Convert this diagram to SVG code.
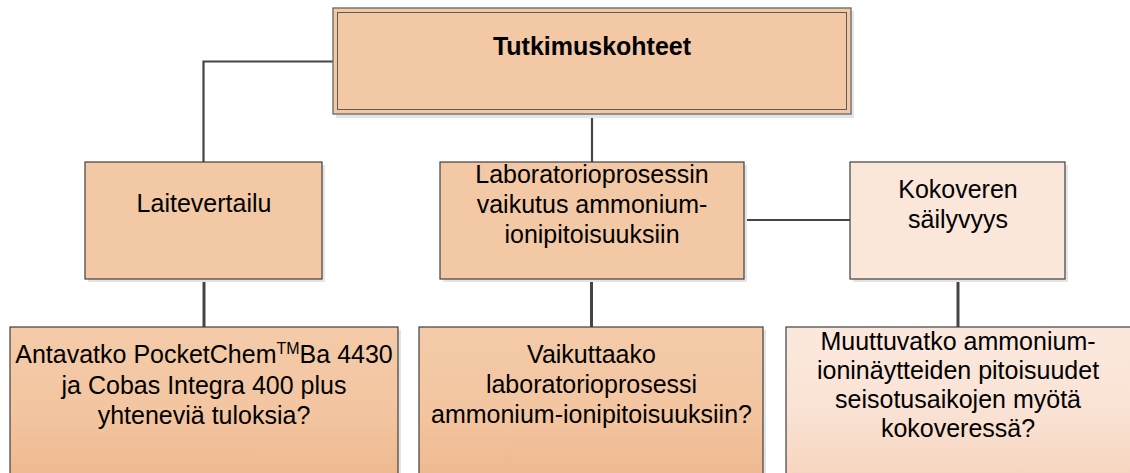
<svg xmlns="http://www.w3.org/2000/svg" width="1130" height="473" viewBox="0 0 1130 473">
  <defs>
    <linearGradient id="gPeach" gradientUnits="userSpaceOnUse" x1="0" y1="327" x2="0" y2="490">
      <stop offset="0" stop-color="#f4caa8"/>
      <stop offset="0.5" stop-color="#f3c6a1"/>
      <stop offset="1" stop-color="#eeb68c"/>
    </linearGradient>
    <linearGradient id="gLight" gradientUnits="userSpaceOnUse" x1="0" y1="327" x2="0" y2="490">
      <stop offset="0" stop-color="#fbe8dd"/>
      <stop offset="0.5" stop-color="#fae3d5"/>
      <stop offset="1" stop-color="#f6d2bb"/>
    </linearGradient>
  </defs>
  <style>
    .shadow { fill: #e4e4e4; }
    .box { fill: #f3c8a5; stroke: #404040; stroke-width: 1.2; }
    .boxl { fill: #fbe6da; stroke: #404040; stroke-width: 1.2; }
    .conn { fill: none; stroke: #454545; stroke-width: 2.2; }
    .conn3 { fill: none; stroke: #454545; stroke-width: 3; }
    text { font-family: "Liberation Sans", Arial, sans-serif; font-size: 25px; fill: #000; text-anchor: middle; }
    .title { font-weight: bold; }
  </style>

  <g id="connectors">
    <polyline class="conn" points="333,61.5 203.5,61.5 203.5,162"/>
    <line class="conn" x1="592" y1="114" x2="592" y2="162"/>
    <line class="conn" x1="744" y1="220" x2="850" y2="220"/>
    <line class="conn3" x1="204" y1="279" x2="204" y2="327"/>
    <line class="conn3" x1="591.5" y1="279" x2="591.5" y2="327"/>
    <line class="conn3" x1="958" y1="279" x2="958" y2="327"/>
  </g>

  <g id="node-top">
    <rect class="shadow" x="336" y="11" width="518" height="107"/>
    <rect x="333" y="8" width="518" height="106" fill="#f3c8a5" stroke="#6f6f6f" stroke-width="1.4"/>
    <rect x="337.5" y="12.5" width="509" height="97" fill="none" stroke="#5a5a5a" stroke-width="1"/>
    <text class="title" x="592" y="55">Tutkimuskohteet</text>
  </g>

  <g id="node-laitevertailu">
    <rect class="shadow" x="88" y="165" width="237" height="117"/>
    <rect class="box" x="85" y="162" width="237" height="117"/>
    <text x="204" y="212">Laitevertailu</text>
  </g>

  <g id="node-laboratorioprosessi">
    <rect class="shadow" x="443" y="165" width="304" height="117"/>
    <rect class="box" x="440" y="162" width="304" height="117"/>
    <text x="592" y="183">Laboratorioprosessin</text>
    <text x="592" y="213">vaikutus ammonium-</text>
    <text x="592" y="243">ionipitoisuuksiin</text>
  </g>

  <g id="node-kokoveren">
    <rect class="shadow" x="853" y="165" width="215" height="117"/>
    <rect class="boxl" x="850" y="162" width="215" height="117"/>
    <text x="958" y="198">Kokoveren</text>
    <text x="958" y="227.5">säilyvyys</text>
  </g>

  <g id="node-q1">
    <rect class="shadow" x="13" y="330" width="388" height="160"/>
    <rect x="10" y="327" width="388" height="160" fill="url(#gPeach)" stroke="#404040" stroke-width="1.2"/>
    <text x="204" y="363">Antavatko PocketChem<tspan font-size="16" dy="-9">TM</tspan><tspan dy="9">Ba 4430</tspan></text>
    <text x="204" y="394">ja Cobas Integra 400 plus</text>
    <text x="204" y="424">yhteneviä tuloksia?</text>
  </g>

  <g id="node-q2">
    <rect class="shadow" x="422" y="330" width="344" height="160"/>
    <rect x="419" y="327" width="344" height="160" fill="url(#gPeach)" stroke="#404040" stroke-width="1.2"/>
    <text x="591.5" y="363">Vaikuttaako</text>
    <text x="591.5" y="393">laboratorioprosessi</text>
    <text x="591.5" y="423">ammonium-ionipitoisuuksiin?</text>
  </g>

  <g id="node-q3">
    <rect x="786" y="327" width="346" height="160" fill="url(#gLight)" stroke="#404040" stroke-width="1.2"/>
    <text x="958" y="350">Muuttuvatko ammonium-</text>
    <text x="958" y="379">ioninäytteiden pitoisuudet</text>
    <text x="958" y="408">seisotusaikojen myötä</text>
    <text x="958" y="437">kokoveressä?</text>
  </g>
</svg>
